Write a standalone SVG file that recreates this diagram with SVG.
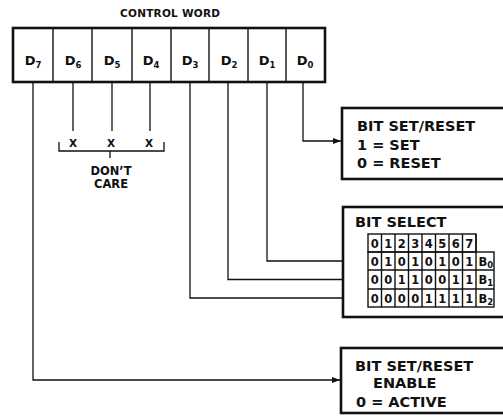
<svg xmlns="http://www.w3.org/2000/svg" width="503" height="418" viewBox="0 0 503 418">
<style>
text{font-family:"DejaVu Sans","Liberation Sans",sans-serif;font-weight:bold;fill:#111}
.box{fill:#fff;stroke:#111;stroke-width:2.6}
.cell{fill:none;stroke:#111;stroke-width:1.4}
.div{stroke:#111;stroke-width:1.4}
.wire{fill:none;stroke:#111;stroke-width:1.3}
.bt{font-size:14.5px}
.dl{font-size:13px}
.sub{font-size:8.5px}
.td{font-size:11.5px}
.sm{font-size:10.5px}
.dc{font-size:11.5px}
</style>
<defs>
<marker id="ah" markerUnits="userSpaceOnUse" markerWidth="9" markerHeight="7" refX="8" refY="3" orient="auto">
<path d="M0,0 L8,3 L0,6 z" fill="#111"/>
</marker>
</defs>
<text x="170" y="17" text-anchor="middle" class="sm" textLength="100">CONTROL WORD</text>
<g id="control-word">
<rect class="box" x="13" y="28" width="312" height="54"/>
<line class="div" x1="53" y1="28" x2="53" y2="82"/>
<line class="div" x1="92" y1="28" x2="92" y2="82"/>
<line class="div" x1="132" y1="28" x2="132" y2="82"/>
<line class="div" x1="171" y1="28" x2="171" y2="82"/>
<line class="div" x1="209" y1="28" x2="209" y2="82"/>
<line class="div" x1="248" y1="28" x2="248" y2="82"/>
<line class="div" x1="286" y1="28" x2="286" y2="82"/>
<text class="dl" x="33" y="65" text-anchor="middle">D<tspan class="sub" dy="3">7</tspan></text>
<text class="dl" x="73" y="65" text-anchor="middle">D<tspan class="sub" dy="3">6</tspan></text>
<text class="dl" x="112" y="65" text-anchor="middle">D<tspan class="sub" dy="3">5</tspan></text>
<text class="dl" x="151" y="65" text-anchor="middle">D<tspan class="sub" dy="3">4</tspan></text>
<text class="dl" x="190" y="65" text-anchor="middle">D<tspan class="sub" dy="3">3</tspan></text>
<text class="dl" x="229" y="65" text-anchor="middle">D<tspan class="sub" dy="3">2</tspan></text>
<text class="dl" x="267" y="65" text-anchor="middle">D<tspan class="sub" dy="3">1</tspan></text>
<text class="dl" x="305" y="65" text-anchor="middle">D<tspan class="sub" dy="3">0</tspan></text>
</g>
<g id="connectors">
<path class="wire" d="M33,82 V380 H340" marker-end="url(#ah)"/>
<path class="wire" d="M73,82 V131"/>
<path class="wire" d="M112,82 V131"/>
<path class="wire" d="M150,82 V131"/>
<path class="wire" d="M190,82 V298 H367" marker-end="url(#ah)"/>
<path class="wire" d="M228,82 V279.5 H367" marker-end="url(#ah)"/>
<path class="wire" d="M267,82 V261 H367" marker-end="url(#ah)"/>
<path class="wire" d="M303,82 V141 H341" marker-end="url(#ah)"/>
<path class="wire" d="M59,142 V151 H164 V142 M110,151 V158"/>
</g>
<g id="dont-care">
<text class="sm" x="73" y="147" text-anchor="middle">X</text>
<text class="sm" x="111" y="147" text-anchor="middle">X</text>
<text class="sm" x="149" y="147" text-anchor="middle">X</text>
<text class="dc" x="111" y="175" text-anchor="middle">DON’T</text>
<text class="dc" x="111" y="188" text-anchor="middle">CARE</text>
</g>
<g id="bit-set-reset">
<rect class="box" x="342" y="108" width="175" height="71"/>
<text class="bt" x="357" y="131">BIT SET/RESET</text>
<text class="bt" x="357" y="150">1 = SET</text>
<text class="bt" x="357" y="168">0 = RESET</text>
</g>
<g id="bit-select">
<rect class="box" x="343" y="207" width="175" height="110"/>
<text class="bt" x="355" y="227">BIT SELECT</text>
<g id="table">
<rect class="cell" x="368" y="234" width="108" height="18"/>
<rect class="cell" x="368" y="252" width="126" height="55"/>
<line class="div" x1="368" y1="270" x2="494" y2="270"/>
<line class="div" x1="368" y1="289" x2="494" y2="289"/>
<line class="div" x1="381.5" y1="234" x2="381.5" y2="307"/>
<line class="div" x1="395" y1="234" x2="395" y2="307"/>
<line class="div" x1="408.5" y1="234" x2="408.5" y2="307"/>
<line class="div" x1="422" y1="234" x2="422" y2="307"/>
<line class="div" x1="435.5" y1="234" x2="435.5" y2="307"/>
<line class="div" x1="449" y1="234" x2="449" y2="307"/>
<line class="div" x1="462.5" y1="234" x2="462.5" y2="307"/>
<line class="div" x1="476" y1="234" x2="476" y2="307"/>
<g text-anchor="middle">
<text class="td" x="374.75" y="247.5">0</text><text class="td" x="388.25" y="247.5">1</text><text class="td" x="401.75" y="247.5">2</text><text class="td" x="415.25" y="247.5">3</text><text class="td" x="428.75" y="247.5">4</text><text class="td" x="442.25" y="247.5">5</text><text class="td" x="455.75" y="247.5">6</text><text class="td" x="469.25" y="247.5">7</text>
<text class="td" x="374.75" y="265.5">0</text><text class="td" x="388.25" y="265.5">1</text><text class="td" x="401.75" y="265.5">0</text><text class="td" x="415.25" y="265.5">1</text><text class="td" x="428.75" y="265.5">0</text><text class="td" x="442.25" y="265.5">1</text><text class="td" x="455.75" y="265.5">0</text><text class="td" x="469.25" y="265.5">1</text>
<text class="td" x="374.75" y="284">0</text><text class="td" x="388.25" y="284">0</text><text class="td" x="401.75" y="284">1</text><text class="td" x="415.25" y="284">1</text><text class="td" x="428.75" y="284">0</text><text class="td" x="442.25" y="284">0</text><text class="td" x="455.75" y="284">1</text><text class="td" x="469.25" y="284">1</text>
<text class="td" x="374.75" y="302.5">0</text><text class="td" x="388.25" y="302.5">0</text><text class="td" x="401.75" y="302.5">0</text><text class="td" x="415.25" y="302.5">0</text><text class="td" x="428.75" y="302.5">1</text><text class="td" x="442.25" y="302.5">1</text><text class="td" x="455.75" y="302.5">1</text><text class="td" x="469.25" y="302.5">1</text>
</g>
<text class="td" x="478.5" y="265.5">B<tspan class="sub" dy="2">0</tspan></text>
<text class="td" x="478.5" y="284">B<tspan class="sub" dy="2">1</tspan></text>
<text class="td" x="478.5" y="302.5">B<tspan class="sub" dy="2">2</tspan></text>
</g>
</g>
<g id="bit-set-reset-enable">
<rect class="box" x="341" y="348" width="175" height="65"/>
<text class="bt" x="355" y="371">BIT SET/RESET</text>
<text class="bt" x="373" y="388">ENABLE</text>
<text class="bt" x="356" y="407">0 = ACTIVE</text>
</g>
</svg>
